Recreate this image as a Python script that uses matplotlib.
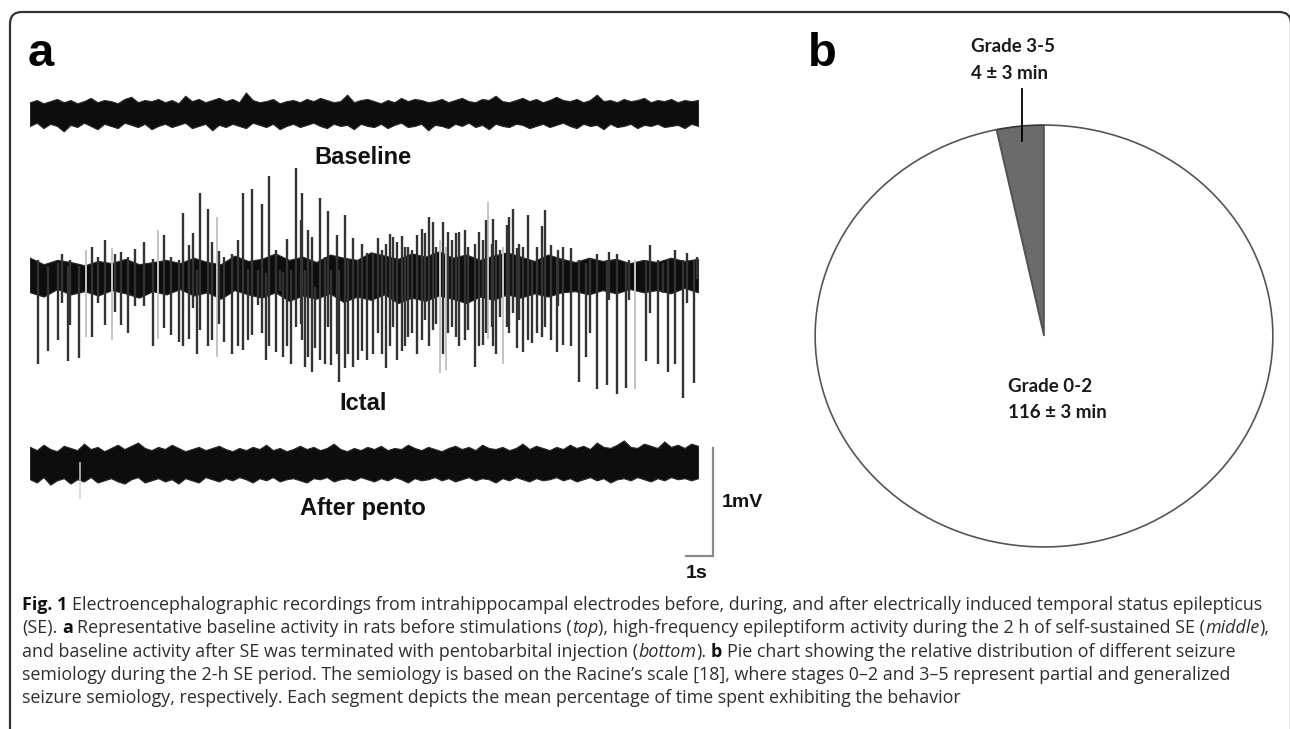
import numpy as np
import matplotlib
matplotlib.use("Agg")
import matplotlib.pyplot as plt
from matplotlib import font_manager
from matplotlib.patches import FancyBboxPatch
from matplotlib.transforms import IdentityTransform

# ---- data ---------------------------------------------------------------
# panel a: EEG traces, time in s, amplitude in mV (relative to each trace's centre)
trace_dur = 24.74

baseline_up = [0.10, 0.12, 0.09, 0.11, 0.13, 0.10, 0.12, 0.09, 0.11, 0.14,
               0.10, 0.12, 0.11, 0.09, 0.13, 0.15, 0.10, 0.12, 0.11, 0.13,
               0.10, 0.12, 0.09, 0.16, 0.11, 0.13, 0.10, 0.12, 0.14, 0.11,
               0.13, 0.10, 0.19, 0.12, 0.10, 0.11, 0.13, 0.09, 0.11, 0.12,
               0.10, 0.13, 0.11, 0.14, 0.12, 0.10, 0.11, 0.17, 0.10, 0.12,
               0.13, 0.11, 0.09, 0.12, 0.10, 0.14, 0.11, 0.13, 0.12, 0.10,
               0.11, 0.13, 0.10, 0.12, 0.14, 0.11, 0.10, 0.13, 0.12, 0.16,
               0.11, 0.10, 0.12, 0.14, 0.11, 0.13, 0.10, 0.12, 0.15, 0.12,
               0.11, 0.13, 0.10, 0.12, 0.17, 0.11, 0.12, 0.10, 0.13, 0.11,
               0.12, 0.14, 0.10, 0.12, 0.11, 0.13, 0.10, 0.12, 0.11, 0.12]
baseline_lo = [-0.12, -0.09, -0.14, -0.10, -0.12, -0.17, -0.11, -0.13, -0.09, -0.12,
               -0.15, -0.10, -0.12, -0.14, -0.09, -0.11, -0.13, -0.10, -0.15, -0.12,
               -0.10, -0.13, -0.11, -0.09, -0.14, -0.12, -0.10, -0.16, -0.11, -0.13,
               -0.10, -0.12, -0.14, -0.09, -0.11, -0.13, -0.10, -0.15, -0.12, -0.10,
               -0.13, -0.11, -0.09, -0.12, -0.14, -0.10, -0.12, -0.11, -0.15, -0.10,
               -0.12, -0.13, -0.10, -0.14, -0.11, -0.09, -0.13, -0.12, -0.10, -0.16,
               -0.11, -0.12, -0.14, -0.10, -0.12, -0.09, -0.13, -0.11, -0.15, -0.10,
               -0.12, -0.13, -0.10, -0.11, -0.14, -0.12, -0.10, -0.13, -0.11, -0.09,
               -0.12, -0.14, -0.10, -0.12, -0.11, -0.15, -0.10, -0.13, -0.12, -0.10,
               -0.14, -0.11, -0.12, -0.10, -0.13, -0.12, -0.11, -0.14, -0.10, -0.12]

pento_up = [0.14, 0.11, 0.16, 0.12, 0.10, 0.15, 0.13, 0.11, 0.17, 0.12,
            0.14, 0.10, 0.13, 0.16, 0.12, 0.15, 0.18, 0.13, 0.11, 0.14,
            0.12, 0.16, 0.13, 0.10, 0.12, 0.14, 0.11, 0.13, 0.15, 0.12,
            0.10, 0.13, 0.11, 0.14, 0.12, 0.16, 0.11, 0.13, 0.10, 0.12,
            0.15, 0.12, 0.14, 0.11, 0.13, 0.17, 0.12, 0.10, 0.13, 0.11,
            0.14, 0.12, 0.15, 0.11, 0.13, 0.12, 0.16, 0.13, 0.11, 0.14,
            0.12, 0.10, 0.13, 0.15, 0.12, 0.14, 0.11, 0.16, 0.13, 0.12,
            0.14, 0.11, 0.13, 0.17, 0.12, 0.15, 0.13, 0.11, 0.14, 0.12,
            0.16, 0.13, 0.15, 0.12, 0.18, 0.14, 0.13, 0.16, 0.20, 0.14,
            0.13, 0.17, 0.15, 0.13, 0.19, 0.14, 0.16, 0.13, 0.17, 0.15]
pento_lo = [-0.16, -0.19, -0.14, -0.21, -0.17, -0.15, -0.20, -0.16, -0.18, -0.14,
            -0.19, -0.17, -0.15, -0.18, -0.20, -0.16, -0.14, -0.19, -0.17, -0.15,
            -0.18, -0.16, -0.20, -0.15, -0.17, -0.19, -0.14, -0.16, -0.18, -0.15,
            -0.17, -0.14, -0.16, -0.19, -0.15, -0.17, -0.14, -0.18, -0.16, -0.15,
            -0.17, -0.19, -0.15, -0.16, -0.14, -0.18, -0.16, -0.15, -0.17, -0.14,
            -0.16, -0.18, -0.15, -0.17, -0.14, -0.16, -0.19, -0.15, -0.17, -0.16,
            -0.14, -0.17, -0.15, -0.18, -0.16, -0.14, -0.17, -0.15, -0.16, -0.19,
            -0.15, -0.17, -0.14, -0.16, -0.18, -0.15, -0.17, -0.16, -0.14, -0.17,
            -0.15, -0.18, -0.16, -0.14, -0.17, -0.15, -0.19, -0.16, -0.15, -0.17,
            -0.14, -0.16, -0.18, -0.15, -0.17, -0.14, -0.16, -0.15, -0.17, -0.15]
pento_faint_t = [1.85]
pento_faint_bot = [-0.34]

ictal_up = [0.16, 0.10, 0.14, 0.12, 0.09, 0.13, 0.11, 0.15, 0.10, 0.12,
            0.14, 0.11, 0.16, 0.12, 0.10, 0.18, 0.13, 0.15, 0.20, 0.14,
            0.17, 0.12, 0.19, 0.16, 0.14, 0.21, 0.18, 0.15, 0.20, 0.17,
            0.22, 0.16, 0.19, 0.14, 0.18, 0.21, 0.17, 0.13, 0.19, 0.15,
            0.12, 0.16, 0.13, 0.15, 0.11, 0.14, 0.12, 0.16, 0.13, 0.15]
ictal_lo = [-0.16, -0.20, -0.13, -0.18, -0.15, -0.19, -0.14, -0.17, -0.21, -0.15,
            -0.18, -0.13, -0.19, -0.16, -0.22, -0.14, -0.18, -0.21, -0.16, -0.24,
            -0.19, -0.22, -0.17, -0.25, -0.20, -0.23, -0.18, -0.26, -0.21, -0.24,
            -0.19, -0.22, -0.26, -0.20, -0.23, -0.18, -0.21, -0.17, -0.20, -0.16,
            -0.15, -0.18, -0.14, -0.17, -0.13, -0.16, -0.14, -0.17, -0.12, -0.16]

# epileptiform spikes: time, upper tip, lower tip
spike_t = [0.28, 0.68, 1.05, 1.17, 1.40, 1.48, 1.81, 2.28, 2.51, 2.78,
           3.15, 3.37, 3.62, 3.89, 4.23, 4.57, 4.98, 5.22, 5.52, 5.68,
           5.90, 6.02, 6.17, 6.30, 6.60, 6.73, 7.00, 7.20, 7.49, 7.72,
           7.90, 8.06, 8.21, 8.46, 8.60, 8.74, 8.86, 9.10, 9.26, 9.38,
           9.51, 9.65, 9.85, 10.04, 10.09, 10.19, 10.31, 10.43, 10.56, 10.75,
           10.93, 11.02, 11.15, 11.36, 11.46, 11.67, 11.77, 11.95, 12.14, 12.28,
           12.47, 12.72, 12.90, 13.02, 13.19, 13.33, 13.46, 13.60, 13.77, 13.89,
           14.01, 14.14, 14.35, 14.51, 14.63, 14.78, 14.94, 15.04, 15.31, 15.49,
           15.62, 15.78, 15.90, 16.11, 16.23, 16.48, 16.64, 16.79, 16.89, 17.10,
           17.16, 17.26, 17.41, 17.65, 17.75, 17.88, 18.02, 18.12, 18.27, 18.43,
           18.58, 18.77, 18.95, 19.07, 19.28, 19.51, 19.57, 19.75, 20.02, 20.35,
           20.59, 20.74, 21.01, 21.36, 21.46, 21.75, 22.07, 22.20, 22.81, 22.96,
           23.27, 23.46, 23.64, 23.89, 24.17, 24.32, 24.60, 24.69]
spike_top = [0.14, 0.08, 0.11, 0.19, 0.08, 0.14, 0.08, 0.26, 0.17, 0.32,
             0.19, 0.21, 0.17, 0.24, 0.31, 0.15, 0.37, 0.17, 0.14, 0.57,
             0.28, 0.39, 0.05, 0.76, 0.61, 0.31, 0.22, 0.17, 0.19, 0.32,
             0.76, 0.06, 0.80, 0.05, 0.66, 0.02, 0.92, 0.23, 0.05, 0.03,
             0.33, 0.05, 0.99, 0.51, 0.76, 0.05, 0.42, 0.35, -0.11, 0.71,
             0.17, 0.59, 0.05, 0.37, 0.05, 0.56, 0.14, 0.34, 0.14, 0.29,
             0.20, 0.20, 0.34, 0.23, 0.29, 0.38, 0.35, 0.31, 0.36, 0.26,
             0.26, 0.23, 0.37, 0.43, 0.39, 0.54, 0.49, 0.26, 0.49, 0.40,
             0.32, 0.39, 0.40, 0.42, 0.26, 0.29, 0.40, 0.32, 0.51, 0.29,
             0.52, 0.32, 0.23, 0.46, 0.54, 0.61, 0.25, 0.29, 0.26, 0.56,
             0.14, 0.26, 0.45, 0.60, 0.28, 0.17, 0.23, 0.26, 0.25, 0.14,
             0.11, 0.15, 0.19, 0.14, 0.21, 0.19, 0.11, 0.14, 0.14, 0.28,
             0.14, 0.11, 0.14, 0.23, 0.14, 0.20, 0.14, 0.17]
spike_bot = [-0.82, -0.70, -0.60, -0.26, -0.80, -0.46, -0.77, -0.57, -0.26, -0.46,
             -0.34, -0.46, -0.54, -0.29, -0.29, -0.66, -0.49, -0.56, -0.62, -0.66,
             -0.59, -0.31, -0.73, -0.51, -0.66, -0.60, -0.45, -0.62, -0.73, -0.66,
             -0.69, -0.60, -0.56, -0.28, -0.54, -0.79, -0.66, -0.71, -0.15, -0.76,
             -0.66, -0.82, -0.48, -0.45, -0.60, -0.85, -0.76, -0.90, -0.68, -0.79,
             -0.82, -0.48, -0.83, -0.73, -0.99, -0.86, -0.73, -0.85, -0.79, -0.70,
             -0.79, -0.73, -0.54, -0.73, -0.86, -0.66, -0.48, -0.79, -0.70, -0.66,
             -0.57, -0.54, -0.73, -0.60, -0.42, -0.66, -0.51, -0.45, -0.73, -0.54,
             -0.48, -0.57, -0.66, -0.60, -0.51, -0.85, -0.66, -0.65, -0.54, -0.48,
             -0.66, -0.73, -0.39, -0.48, -0.54, -0.35, -0.68, -0.42, -0.71, -0.60,
             -0.63, -0.54, -0.57, -0.48, -0.60, -0.71, -0.29, -0.65, -0.66, -0.99,
             -0.76, -0.54, -1.06, -1.02, -0.23, -1.10, -1.05, -0.23, -0.80, -0.35,
             -0.82, -0.17, -0.90, -0.82, -1.14, -0.26, -1.00, -0.04]
# faint (light grey) spikes
faint_t = [2.06, 3.05, 4.75, 6.91, 15.19, 15.41, 16.95, 17.53, 22.41]
faint_top = [0.23, 0.25, 0.42, 0.54, 0.32, 0.26, 0.68, 0.26, 0.14]
faint_bot = [-0.57, -0.60, -0.59, -0.76, -0.91, -0.88, -0.59, -0.82, -1.06]

trace_names = ["Baseline", "Ictal", "After pento"]

# panel b: time at each seizure grade during 2-h SE (min)
grades = ["Grade 3-5", "Grade 0-2"]
grade_minutes = [4, 116]
grade_sd = [3, 3]
grade_colors = ["#6b6b6b", "#ffffff"]

caption = [
    [("Fig. 1", "b"), (" Electroencephalographic recordings from intrahippocampal electrodes before, during, and after electrically induced temporal status epilepticus", "n")],
    [("(SE).", "n"), (" a", "b"), (" Representative baseline activity in rats before stimulations (", "n"), ("top", "i"),
     ("), high-frequency epileptiform activity during the 2 h of self-sustained SE (", "n"), ("middle", "i"), ("),", "n")],
    [("and baseline activity after SE was terminated with pentobarbital injection (", "n"), ("bottom", "i"), (").", "n"),
     (" b", "b"), (" Pie chart showing the relative distribution of different seizure", "n")],
    [("semiology during the 2-h SE period. The semiology is based on the Racine\u2019s scale [18], where stages 0\u20132 and 3\u20135 represent partial and generalized", "n")],
    [("seizure semiology, respectively. Each segment depicts the mean percentage of time spent exhibiting the behavior", "n")],
]

# ---- figure ---------------------------------------------------------------
W, H = 1290, 729
fig = plt.figure(figsize=(W / 100, H / 100), dpi=100)
fig.patch.set_facecolor("white")

installed = {f.name for f in font_manager.fontManager.ttflist}
narrow = "Liberation Sans Narrow" if "Liberation Sans Narrow" in installed else "Liberation Sans"


def px_axes(x0, y0, x1, y1):
    # pixel box (top-left origin) -> figure axes
    return fig.add_axes([x0 / W, 1 - y1 / H, (x1 - x0) / W, (y1 - y0) / H])


# outer frame with rounded corners
frame = FancyBboxPatch((10, -40), W - 10 + 1, H - 12 + 40,
                       boxstyle="round,pad=0,rounding_size=12",
                       transform=IdentityTransform(), fill=False,
                       edgecolor="#333333", linewidth=1.6)
fig.patches.append(frame)

fig.text(28 / W, 1 - 66 / H, "a", fontsize=34, fontweight="bold", family="Liberation Sans")
fig.text(808 / W, 1 - 66 / H, "b", fontsize=34, fontweight="bold", family="Liberation Sans")

# ---- panel a ---------------------------------------------------------------
# 27 px per second, 108 px per mV
ax = px_axes(30, 80, 780, 600)
ax.set_xlim(0, 750 / 27)
ax.set_ylim(-520 / 108, 0)
ax.axis("off")

offs = [-(113 - 80) / 108, -(275 - 80) / 108, -(462 - 80) / 108]
label_y = [-(157 - 80) / 108, -(403 - 80) / 108, -(508 - 80) / 108]
mid_t = (363 - 30) / 27

ax.vlines(faint_t, offs[1] + np.array(faint_bot), offs[1] + np.array(faint_top),
          color="#c4c4c4", lw=1.4)
ax.vlines(pento_faint_t, offs[2] + np.array(pento_faint_bot), offs[2],
          color="#cfcfcf", lw=1.1)

for up, lo, off in [(baseline_up, baseline_lo, offs[0]), (ictal_up, ictal_lo, offs[1]),
                    (pento_up, pento_lo, offs[2])]:
    tt = np.linspace(0, trace_dur, len(up))
    ax.fill_between(tt, off + np.array(lo), off + np.array(up), facecolor="#0d0d0d",
                    edgecolor="#2a2a2a", lw=0.8)

ax.vlines(spike_t, offs[1] + np.array(spike_bot), offs[1] + np.array(spike_top),
          color="#333333", lw=1.7)

for name, y in zip(trace_names, label_y):
    ax.text(mid_t, y, name, ha="center", va="center", fontsize=17,
            fontweight="bold", family=narrow, color="#111111")

# scale bar 1 mV / 1 s
sb_t = (713 - 30) / 27
sb_top = -(448 - 80) / 108
ax.plot([sb_t - 1, sb_t, sb_t], [sb_top - 1, sb_top - 1, sb_top], color="#8a8a8a", lw=1.6,
        solid_joinstyle="miter")
ax.text(sb_t + 0.33, sb_top - 0.5, "1mV", ha="left", va="center", fontsize=14,
        fontweight="bold", family=narrow, color="#111111")
ax.text(sb_t - 0.62, sb_top - 1.16, "1s", ha="center", va="center", fontsize=14,
        fontweight="bold", family=narrow, color="#111111")

# ---- panel b ---------------------------------------------------------------
axp = px_axes(814, 124, 1274, 548)
wedges, _ = axp.pie(grade_minutes, colors=grade_colors, startangle=90, counterclock=True,
                    wedgeprops=dict(edgecolor="#555555", linewidth=1.2))
wedges[0].set_edgecolor("#333333")
axp.set_aspect("auto")
axp.set_xlim(-1.005, 1.005)
axp.set_ylim(-1.005, 1.005)
axp.axis("off")

mid_ang = np.deg2rad(90 + 360 * grade_minutes[0] / sum(grade_minutes) / 2)
axp.plot([0.93 * np.cos(mid_ang)] * 2, [0.93 * np.sin(mid_ang), 1.17], color="black", lw=1.3,
         clip_on=False)

lab_kw = dict(fontsize=13.5, fontweight="bold", family="Lato", color="#1a1a1a",
              ha="left", va="center", clip_on=False)
axp.text(-0.317, 1.373, grades[0], **lab_kw)
axp.text(-0.317, 1.245, f"{grade_minutes[0]} \u00b1 {grade_sd[0]} min", **lab_kw)
axp.text(-0.157, -0.24, grades[1], **lab_kw)
axp.text(-0.157, -0.363, f"{grade_minutes[1]} \u00b1 {grade_sd[1]} min", **lab_kw)

# ---- caption ---------------------------------------------------------------
renderer = fig.canvas.get_renderer()


def run_width(txt, size, style):
    kw = dict(fontsize=size, family="Open Sans")
    if style == "b":
        kw["fontweight"] = "bold"
    if style == "i":
        kw["fontstyle"] = "italic"
    t = fig.text(0, 0, txt, **kw)
    w = t.get_window_extent(renderer).width
    t.remove()
    return w


def space_width(size):
    return run_width("x x", size, "n") - run_width("xx", size, "n")


def draw_line(runs, x, y, size, draw=True):
    sp = space_width(size)
    for txt, style in runs:
        if txt.startswith(" "):
            x += sp
            txt = txt[1:]
        kw = dict(fontsize=size, family="Open Sans", color="#2e2e2e", va="center", ha="left")
        if style == "b":
            kw["fontweight"] = "bold"
            kw["color"] = "#111111"
        if style == "i":
            kw["fontstyle"] = "italic"
        w = run_width(txt, size, style)
        if draw:
            fig.text(x / W, 1 - y / H, txt, **kw)
        x += w
    return x


cap_size = 11.5
end = draw_line(caption[0], 22, 0, cap_size, draw=False)
cap_size = cap_size * (1268 - 22) / (end - 22)
for i, runs in enumerate(caption):
    draw_line(runs, 22, 605 + 23.3 * i, cap_size)

fig.savefig("out.png", dpi=100)
